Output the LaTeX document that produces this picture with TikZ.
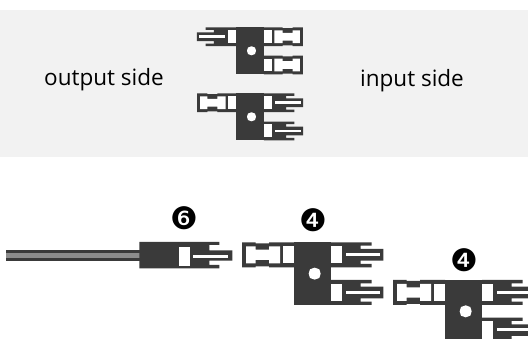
\documentclass[tikz,border=0pt]{standalone}
\usepackage{fontspec}
\setmainfont{Open Sans}
\newfontfamily\symfont{DejaVu Sans}
\definecolor{panelgray}{HTML}{F2F2F2}
\definecolor{darkpart}{HTML}{3A3A3A}
\definecolor{wiregray}{HTML}{8C8C8C}
\tikzset{
  dk/.style={fill=darkpart,draw=none},
  wh/.style={fill=white,draw=none},
  sidelabel/.style={font=\fontsize{22.5}{26}\selectfont,text=black,inner sep=0pt},
  marker/.style={font=\symfont\fontsize{31}{34}\selectfont,text=black,inner sep=0pt},
}
\newcommand\partbody{%
  \fill[dk] (0,0) rectangle (111,187);
  \fill[wh] (62,76) -- (76,81) -- (80,94) -- (76,107) -- (62,112) -- (48,107) -- (44,94) -- (48,81) -- cycle;
}
\newcommand\partpin[2]{%
  \begin{scope}[shift={(#1,#2)}]
  \fill[dk] (0,0) -- (122,0) -- (122,10) -- (89,10) -- (89,20) -- (157,20) -- (157,55) -- (89,55) -- (89,65) -- (122,65) -- (122,75) -- (0,75) -- cycle;
  \fill[wh] (0,11) rectangle (33,63);
  \fill[wh] (45,32) rectangle (147,41);
  \end{scope}
}
\newcommand\partsocket[2]{%
  \begin{scope}[shift={(#1,#2)}]
  \fill[dk] (0,0) -- (75,0) -- (75,3) -- (115,3) -- (115,0) -- (156,0) -- (156,75) -- (115,75) -- (115,72) -- (75,72) -- (75,75) -- (0,75) -- cycle;
  \fill[wh] (0,12) rectangle (32,63);
  \fill[wh] (42,12) -- (75,12) -- (75,22) -- (115,22) -- (115,12) -- (144,12) -- (144,63) -- (115,63) -- (115,53) -- (75,53) -- (75,63) -- (42,63) -- cycle;
  \end{scope}
}
\newcommand\fullconnector{%
  \partbody
  \begin{scope}[xscale=-1]\partsocket{0}{0}\end{scope}
  \partpin{111}{0}
  \partpin{111}{113}
}
\begin{document}
\begin{tikzpicture}[x=1pt,y=-1pt]
\useasboundingbox (0,0) rectangle (528,339);
\clip (0,0) rectangle (528,339);
\fill[panelgray] (0,10) rectangle (528,157);
\node[sidelabel] (outlabel) at (104,80) {output side};
\node[sidelabel] (inlabel) at (412,80.5) {input side};
% top small icon
\begin{scope}[shift={(236,27.3)},scale=0.25]
  \partbody
  \begin{scope}[xscale=-1]\partpin{0}{0}\end{scope}
  \partsocket{111}{0}
  \partsocket{111}{113}
\end{scope}
% lower small icon
\begin{scope}[shift={(236,93.3)},scale=0.25]
  \fullconnector
\end{scope}
% wire connector
\fill[darkpart] (6,250.3) rectangle (140,260.7);
\fill[wiregray] (6,252.7) rectangle (140,258.3);
\begin{scope}[shift={(139.3,242)},scale=1/3]
  \fill[dk] (0,0) -- (240,0) -- (240,9) -- (210,9) -- (210,25) -- (279,25) -- (279,56) -- (210,56) -- (210,69) -- (240,69) -- (240,79) -- (0,79) -- cycle;
  \fill[wh] (120,16) rectangle (152,72);
  \fill[wh] (160,39) rectangle (267,49);
\end{scope}
\node[marker] (six) at (184,218.5) {❻};
% connector 4 left
\begin{scope}[shift={(294,242.3)},scale=1/3]
  \fullconnector
\end{scope}
\node[marker] (four) at (313,220.7) {❹};
% connector 4 right
\begin{scope}[shift={(445,280)},scale=1/3]
  \fullconnector
\end{scope}
\node[marker] (fourb) at (464,260) {❹};
\end{tikzpicture}
\end{document}
